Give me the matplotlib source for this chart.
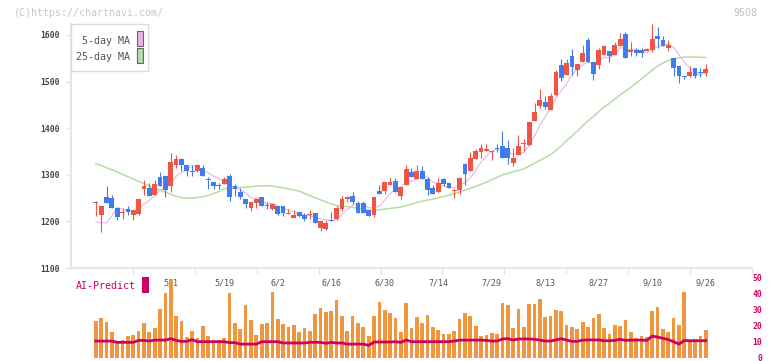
import numpy as np
import pandas as pd
import matplotlib.pyplot as plt
from matplotlib.patches import Rectangle

# Velas diarias (la primera es la marca suelta a la izquierda del primer dia)
opens = [1173,
         1239, 1214, 1253, 1250, 1229, 1218, 1227, 1213, 1215, 1270,
         1271, 1257, 1296, 1298, 1277, 1320, 1333, 1320, 1309, 1308,
         1315, 1290, 1285, 1279, 1280, 1298, 1275, 1262, 1249, 1229,
         1240, 1253, 1236, 1227, 1234, 1232, 1216, 1208, 1221, 1214,
         1214, 1217, 1186, 1184, 1204, 1206, 1227, 1247, 1255, 1240,
         1240, 1225, 1214, 1266, 1266, 1279, 1287, 1255, 1279, 1307,
         1290, 1309, 1292, 1272, 1264, 1290, 1283, 1266, 1267, 1324,
         1309, 1333, 1348, 1350, 1348, 1358, 1361, 1358, 1326, 1343,
         1366, 1363, 1416, 1447, 1457, 1438, 1472, 1535, 1515, 1554,
         1524, 1541, 1589, 1541, 1535, 1558, 1565, 1558, 1576, 1601,
         1563, 1567, 1567, 1565, 1567, 1597, 1589, 1573, 1550, 1533,
         1513, 1513, 1530, 1520, 1518]
highs = [1173,
         1243, 1234, 1275, 1257, 1229, 1228, 1232, 1224, 1249, 1288,
         1282, 1289, 1305, 1298, 1347, 1342, 1335, 1321, 1320, 1324,
         1320, 1296, 1285, 1282, 1295, 1301, 1280, 1272, 1249, 1242,
         1250, 1253, 1242, 1238, 1234, 1232, 1227, 1224, 1221, 1219,
         1225, 1217, 1201, 1204, 1221, 1234, 1255, 1255, 1264, 1244,
         1244, 1225, 1253, 1279, 1285, 1294, 1294, 1274, 1320, 1315,
         1322, 1318, 1296, 1279, 1294, 1294, 1283, 1270, 1294, 1326,
         1348, 1356, 1365, 1365, 1352, 1365, 1395, 1374, 1358, 1386,
         1376, 1414, 1453, 1483, 1470, 1475, 1524, 1548, 1548, 1569,
         1537, 1578, 1593, 1541, 1571, 1578, 1565, 1584, 1604, 1606,
         1584, 1571, 1571, 1571, 1623, 1616, 1597, 1589, 1550, 1533,
         1513, 1533, 1530, 1530, 1537]
lows = [1173,
        1212, 1178, 1239, 1228, 1204, 1206, 1214, 1204, 1214, 1257,
        1254, 1257, 1275, 1252, 1262, 1315, 1308, 1297, 1297, 1307,
        1298, 1270, 1270, 1269, 1280, 1244, 1255, 1247, 1228, 1223,
        1229, 1233, 1227, 1225, 1214, 1212, 1215, 1208, 1210, 1201,
        1206, 1196, 1180, 1182, 1200, 1204, 1223, 1242, 1238, 1217,
        1217, 1212, 1210, 1259, 1259, 1279, 1264, 1249, 1279, 1296,
        1290, 1290, 1256, 1258, 1260, 1275, 1271, 1250, 1258, 1279,
        1309, 1333, 1337, 1350, 1331, 1348, 1335, 1324, 1318, 1343,
        1352, 1361, 1416, 1444, 1441, 1438, 1468, 1501, 1515, 1515,
        1513, 1541, 1541, 1503, 1526, 1558, 1541, 1558, 1576, 1550,
        1554, 1554, 1552, 1565, 1563, 1573, 1576, 1565, 1511, 1496,
        1505, 1509, 1507, 1509, 1513]
closes = [1173,
          1240, 1234, 1239, 1228, 1210, 1219, 1221, 1224, 1249, 1276,
          1254, 1281, 1275, 1267, 1328, 1333, 1320, 1309, 1305, 1320,
          1298, 1289, 1275, 1275, 1292, 1252, 1269, 1253, 1238, 1242,
          1247, 1234, 1232, 1238, 1216, 1219, 1217, 1214, 1211, 1206,
          1215, 1196, 1201, 1197, 1200, 1229, 1247, 1253, 1242, 1219,
          1219, 1212, 1253, 1259, 1285, 1285, 1264, 1274, 1313, 1296,
          1309, 1290, 1267, 1258, 1283, 1281, 1271, 1267, 1294, 1301,
          1335, 1350, 1358, 1356, 1352, 1357, 1337, 1337, 1337, 1361,
          1367, 1414, 1434, 1460, 1445, 1468, 1520, 1508, 1539, 1531,
          1537, 1561, 1541, 1516, 1567, 1576, 1554, 1578, 1591, 1550,
          1567, 1561, 1561, 1569, 1591, 1591, 1576, 1578, 1530, 1513,
          1509, 1520, 1513, 1519, 1528]

# Volumen y linea AI-Predict (escala derecha 0-50)
volume = [22.9, 24.8, 22.3, 16.0, 10.4, 11.0, 13.6, 14.2, 16.7, 21.7,
          16.0, 18.6, 30.4, 40.4, 49.2, 26.0, 22.9, 13.0, 16.7, 12.3,
          19.8, 13.6, 11.0, 11.0, 12.3, 40.4, 21.7, 17.9, 32.9, 23.6,
          14.2, 21.0, 21.7, 41.0, 24.2, 21.0, 19.2, 20.4, 16.0, 18.6,
          16.7, 27.3, 31.0, 28.6, 29.2, 36.0, 26.0, 16.7, 26.0, 21.7,
          19.2, 13.6, 26.0, 34.8, 29.8, 27.9, 24.8, 16.0, 34.2, 18.6,
          25.4, 21.7, 26.7, 19.2, 17.3, 14.8, 14.8, 16.7, 24.2, 27.9,
          26.0, 19.8, 13.6, 14.2, 15.4, 14.8, 34.2, 32.9, 18.6, 30.4,
          19.2, 33.6, 33.6, 36.7, 25.4, 26.0, 29.8, 29.2, 20.4, 19.2,
          17.9, 22.3, 19.2, 24.8, 27.3, 18.6, 14.8, 20.4, 19.8, 23.6,
          16.0, 12.3, 13.6, 13.0, 29.2, 31.7, 17.9, 16.0, 24.8, 20.4,
          41.0, 11.0, 11.7, 13.6, 17.3]
ai_predict = [10.4, 10.4, 10.4, 10.4, 9.6, 9.6, 9.6, 9.6, 10.8, 10.8,
              10.4, 11.0, 11.0, 11.0, 11.9, 10.8, 10.2, 10.2, 11.3, 10.0,
              10.0, 10.0, 10.0, 10.0, 10.0, 9.4, 9.4, 8.5, 8.5, 8.5,
              8.5, 10.0, 10.0, 10.0, 10.0, 9.2, 9.2, 9.2, 9.2, 9.2,
              9.6, 9.6, 9.6, 9.0, 9.6, 9.2, 9.2, 8.5, 8.5, 8.5,
              8.5, 7.7, 9.8, 9.8, 9.8, 9.8, 10.0, 9.6, 11.0, 10.0,
              10.0, 10.0, 10.0, 10.0, 10.0, 10.0, 10.0, 10.4, 11.0, 11.0,
              11.0, 11.0, 11.0, 10.8, 10.4, 10.4, 11.7, 11.9, 11.0, 11.7,
              11.7, 11.7, 11.5, 11.0, 10.4, 10.4, 11.1, 11.9, 11.0, 10.2,
              10.2, 11.0, 11.1, 11.1, 11.1, 10.6, 10.6, 10.8, 11.5, 10.8,
              11.0, 11.0, 11.0, 10.8, 13.5, 12.9, 12.1, 11.3, 10.0, 8.5,
              10.8, 10.6, 10.6, 10.6, 10.6]

# Primeros valores de las medias moviles
ma5_head = [1199, 1197, 1197, 1212]
ma25_head = [1324, 1320, 1315, 1311, 1306, 1301, 1296, 1291, 1286, 1281,
             1276, 1271, 1267, 1263, 1258, 1254, 1251, 1250, 1250, 1251,
             1253, 1256, 1260, 1264]

date_labels = ['5/1', '5/19', '6/2', '6/16', '6/30', '7/14', '7/29',
               '8/13', '8/27', '9/10', '9/26']
date_idx = [14, 24, 34, 44, 54, 64, 74, 84, 94, 104, 114]

W, H = 772, 361
MONO = 'DejaVu Sans Mono'
MAGENTA = '#cc0066'


def fx(px):
    return px / W


def fy(py):
    return 1 - py / H


fig = plt.figure(figsize=(W / 100, H / 100), dpi=100)
fig.patch.set_facecolor('white')

xlim = (-4.64, 122.65)

# ---- precios ----
ax = fig.add_axes([fx(71), fy(268), fx(752) - fx(71), fy(24) - fy(268)])
ax.set_xlim(*xlim)
ax.set_ylim(1100, 1623.5)

x = np.arange(len(opens)) - 1
closes_main = pd.Series(closes[1:])
ma5 = np.concatenate([ma5_head, closes_main.rolling(5).mean().values[4:]])
ma25 = np.concatenate([ma25_head, closes_main.rolling(25).mean().values[24:]])
xd = np.arange(len(closes_main))
ax.plot(xd, ma25, color='#b5dca5', lw=1.1, zorder=1)
ax.plot(xd, ma5, color='#e8b4e8', lw=0.8, zorder=1)

for xi, o, h, l, c in zip(x, opens, highs, lows, closes):
    col = '#f05442' if c >= o else '#3f7cf0'
    ax.vlines(xi, l, h, color=col, lw=0.8, zorder=2)
    ax.bar(xi, max(abs(c - o), 2.0), bottom=min(o, c) if abs(c - o) >= 2 else c - 1,
           width=0.9, color=col, lw=0, zorder=3)

for s in ['top', 'right']:
    ax.spines[s].set_visible(False)
for s in ['left', 'bottom']:
    ax.spines[s].set_color('#e2e2e2')
    ax.spines[s].set_linewidth(1.2)

ax.set_yticks([1100, 1200, 1300, 1400, 1500, 1600])
ax.tick_params(axis='y', length=3.6, width=1, color='#e2e2e2', pad=4.6,
               labelsize=5.8, labelcolor='#444')
for t in ax.get_yticklabels():
    t.set_fontfamily(MONO)
    t.set_fontweight('bold')
ax.set_xticks(np.linspace(xlim[0], xlim[1], 12)[1:])
ax.set_xticklabels([])
ax.tick_params(axis='x', direction='out', length=4.3, width=1, color='#e2e2e2')

for i, lab in zip(date_idx, date_labels):
    ax.text(i, (268 - 282.5) / 244, lab, transform=ax.get_xaxis_transform(),
            ha='center', va='center', fontsize=6, color='#555', family=MONO)

# ---- volumen ----
av = fig.add_axes([fx(71), fy(357.7), fx(752) - fx(71), fy(277.7) - fy(357.7)])
av.set_xlim(*xlim)
av.set_ylim(0, 50)
xv = np.arange(len(volume))
av.bar(xv, volume, width=0.7, color='#f0963f', lw=0, zorder=1)
av.plot(xv, ai_predict, color=MAGENTA, lw=2.0, zorder=2)
for s in av.spines.values():
    s.set_visible(False)
av.set_xticks([])
av.yaxis.tick_right()
av.set_yticks([0, 10, 20, 30, 40, 50])
av.tick_params(axis='y', length=0, pad=7.2, labelsize=5.8, labelcolor=MAGENTA)
for t in av.get_yticklabels():
    t.set_fontfamily(MONO)
    t.set_fontweight('bold')
    t.set_horizontalalignment('right')
av.patch.set_alpha(0)

# ---- leyenda y textos ----
fig.add_artist(Rectangle((fx(70.5), fy(71)), fx(148) - fx(70.5), fy(24) - fy(71),
                         transform=fig.transFigure, facecolor='white',
                         edgecolor='#dddddd', lw=1))
fig.add_artist(Rectangle((fx(136.5), fy(46)), fx(6), fy(31.5) - fy(46),
                         transform=fig.transFigure, facecolor='#e8b4e8',
                         edgecolor='#666', lw=0.8))
fig.add_artist(Rectangle((fx(136.5), fy(62.5)), fx(6), fy(48.5) - fy(62.5),
                         transform=fig.transFigure, facecolor='#b8dca8',
                         edgecolor='#666', lw=0.8))
fig.text(fx(130), fy(41), '5-day MA', ha='right', va='center', fontsize=7.2,
         color='#555', family=MONO)
fig.text(fx(130), fy(57.5), '25-day MA', ha='right', va='center', fontsize=7.2,
         color='#555', family=MONO)

fig.text(fx(14), fy(12.5), '(C)https://chartnavi.com/', ha='left', va='center',
         fontsize=7.2, color='#c8c8c8', family=MONO)
fig.text(fx(757), fy(12.5), '9508', ha='right', va='center',
         fontsize=7.2, color='#c0c0c0', family=MONO)

fig.text(fx(76), fy(286), 'AI-Predict', ha='left', va='center',
         fontsize=7.2, color=MAGENTA, family=MONO)
fig.add_artist(Rectangle((fx(141.7), fy(292.7)), fx(7.3), fy(276.7) - fy(292.7),
                         transform=fig.transFigure, facecolor=MAGENTA, lw=0))

fig.savefig('out.png', dpi=100)
